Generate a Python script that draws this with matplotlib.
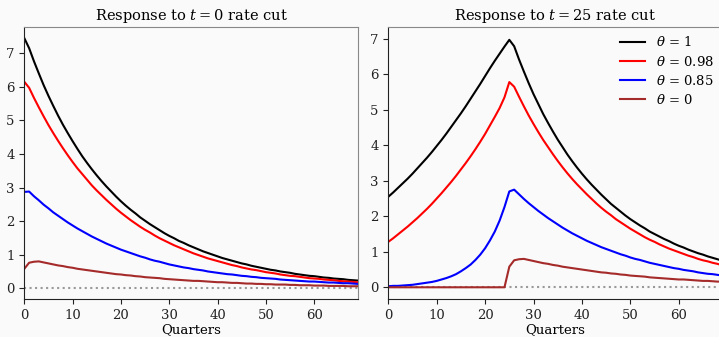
import matplotlib
matplotlib.use("Agg")
import matplotlib.pyplot as plt

plt.rcParams['font.family'] = ['DejaVu Serif']
plt.rcParams['mathtext.fontset'] = 'dejavuserif'

quarters = list(range(70))
labels = [r"$\theta$ = 1", r"$\theta$ = 0.98", r"$\theta$ = 0.85", r"$\theta$ = 0"]
colors = ["black", "red", "blue", "brown"]
titles = [r"Response to $t = 0$ rate cut", r"Response to $t = 25$ rate cut"]

# Left panel: response to t=0 rate cut
left_theta1 = [7.45, 7.15, 6.76, 6.40, 6.05, 5.73, 5.43, 5.14, 4.87, 4.62,
               4.38, 4.15, 3.93, 3.73, 3.54, 3.36, 3.19, 3.03, 2.88, 2.73,
               2.59, 2.46, 2.34, 2.23, 2.11, 2.01, 1.91, 1.82, 1.73, 1.64,
               1.56, 1.49, 1.41, 1.35, 1.28, 1.22, 1.16, 1.10, 1.05, 1.00,
               0.95, 0.90, 0.86, 0.82, 0.78, 0.74, 0.71, 0.67, 0.64, 0.61,
               0.58, 0.55, 0.53, 0.50, 0.48, 0.46, 0.43, 0.41, 0.39, 0.37,
               0.36, 0.34, 0.32, 0.31, 0.29, 0.28, 0.27, 0.25, 0.24, 0.23]
left_theta098 = [6.15, 5.97, 5.67, 5.39, 5.12, 4.86, 4.62, 4.39, 4.17, 3.96,
                 3.76, 3.57, 3.40, 3.23, 3.06, 2.91, 2.77, 2.63, 2.50, 2.37,
                 2.25, 2.14, 2.03, 1.93, 1.83, 1.74, 1.66, 1.57, 1.49, 1.42,
                 1.35, 1.28, 1.22, 1.16, 1.10, 1.04, 0.99, 0.94, 0.89, 0.85,
                 0.81, 0.77, 0.73, 0.69, 0.66, 0.62, 0.59, 0.56, 0.54, 0.51,
                 0.48, 0.46, 0.44, 0.41, 0.39, 0.37, 0.36, 0.34, 0.32, 0.30,
                 0.29, 0.28, 0.26, 0.25, 0.24, 0.22, 0.21, 0.20, 0.19, 0.18]
left_theta085 = [2.87, 2.88, 2.74, 2.62, 2.49, 2.38, 2.26, 2.16, 2.06, 1.96,
                 1.87, 1.78, 1.70, 1.62, 1.54, 1.47, 1.40, 1.33, 1.27, 1.21,
                 1.15, 1.10, 1.05, 1.00, 0.95, 0.91, 0.86, 0.82, 0.79, 0.75,
                 0.71, 0.68, 0.65, 0.62, 0.60, 0.57, 0.55, 0.53, 0.50, 0.48,
                 0.46, 0.44, 0.42, 0.41, 0.39, 0.37, 0.36, 0.34, 0.33, 0.31,
                 0.30, 0.29, 0.28, 0.26, 0.25, 0.24, 0.23, 0.22, 0.21, 0.20,
                 0.20, 0.19, 0.18, 0.17, 0.17, 0.16, 0.15, 0.15, 0.14, 0.13]
left_theta0 = [0.58, 0.76, 0.79, 0.80, 0.77, 0.74, 0.71, 0.68, 0.66, 0.63,
               0.61, 0.58, 0.56, 0.54, 0.52, 0.50, 0.48, 0.46, 0.44, 0.42,
               0.41, 0.39, 0.38, 0.36, 0.35, 0.33, 0.32, 0.31, 0.30, 0.28,
               0.27, 0.26, 0.25, 0.24, 0.23, 0.22, 0.22, 0.21, 0.20, 0.19,
               0.18, 0.18, 0.17, 0.16, 0.16, 0.15, 0.14, 0.14, 0.13, 0.13,
               0.12, 0.12, 0.11, 0.11, 0.11, 0.10, 0.10, 0.09, 0.09, 0.09,
               0.08, 0.08, 0.08, 0.07, 0.07, 0.07, 0.07, 0.06, 0.06, 0.06]

# Right panel: response to t=25 rate cut
right_theta1 = [2.55, 2.67, 2.80, 2.93, 3.06, 3.20, 3.35, 3.50, 3.65, 3.81,
                3.98, 4.15, 4.33, 4.52, 4.71, 4.90, 5.10, 5.31, 5.52, 5.73,
                5.95, 6.17, 6.38, 6.58, 6.78, 6.97, 6.79, 6.42, 6.08, 5.75,
                5.44, 5.16, 4.88, 4.63, 4.39, 4.16, 3.95, 3.74, 3.55, 3.37,
                3.20, 3.04, 2.89, 2.75, 2.61, 2.48, 2.35, 2.24, 2.13, 2.02,
                1.92, 1.83, 1.74, 1.66, 1.57, 1.50, 1.43, 1.36, 1.30, 1.23,
                1.17, 1.12, 1.06, 1.01, 0.96, 0.92, 0.87, 0.83, 0.79, 0.75]
right_theta098 = [1.28, 1.38, 1.49, 1.60, 1.71, 1.83, 1.95, 2.08, 2.21, 2.35,
                  2.50, 2.65, 2.81, 2.97, 3.14, 3.32, 3.50, 3.69, 3.89, 4.10,
                  4.32, 4.56, 4.80, 5.05, 5.35, 5.78, 5.65, 5.37, 5.10, 4.84,
                  4.60, 4.37, 4.15, 3.95, 3.75, 3.56, 3.38, 3.21, 3.05, 2.90,
                  2.76, 2.62, 2.49, 2.36, 2.24, 2.13, 2.03, 1.92, 1.83, 1.74,
                  1.65, 1.57, 1.49, 1.41, 1.34, 1.28, 1.21, 1.15, 1.09, 1.04,
                  0.99, 0.94, 0.89, 0.85, 0.80, 0.76, 0.73, 0.69, 0.66, 0.62]
right_theta085 = [0.03, 0.04, 0.04, 0.05, 0.06, 0.07, 0.09, 0.11, 0.13, 0.15,
                  0.18, 0.22, 0.26, 0.31, 0.37, 0.45, 0.54, 0.64, 0.77, 0.92,
                  1.10, 1.32, 1.57, 1.88, 2.26, 2.70, 2.75, 2.62, 2.49, 2.37,
                  2.26, 2.15, 2.05, 1.95, 1.86, 1.77, 1.68, 1.60, 1.52, 1.45,
                  1.38, 1.31, 1.25, 1.19, 1.13, 1.08, 1.03, 0.98, 0.93, 0.89,
                  0.84, 0.80, 0.77, 0.73, 0.69, 0.66, 0.63, 0.60, 0.57, 0.54,
                  0.52, 0.49, 0.47, 0.45, 0.42, 0.40, 0.38, 0.37, 0.35, 0.33]
right_theta0 = [0.00, 0.00, 0.00, 0.00, 0.00, 0.00, 0.00, 0.00, 0.00, 0.00,
                0.00, 0.00, 0.00, 0.00, 0.00, 0.00, 0.00, 0.00, 0.00, 0.00,
                0.00, 0.00, 0.00, 0.00, 0.00, 0.58, 0.76, 0.79, 0.80, 0.77,
                0.74, 0.71, 0.68, 0.66, 0.63, 0.61, 0.58, 0.56, 0.54, 0.52,
                0.50, 0.48, 0.46, 0.44, 0.42, 0.41, 0.39, 0.38, 0.36, 0.35,
                0.33, 0.32, 0.31, 0.30, 0.28, 0.27, 0.26, 0.25, 0.24, 0.23,
                0.22, 0.22, 0.21, 0.20, 0.19, 0.18, 0.18, 0.17, 0.16, 0.16]

panels = [
    [left_theta1, left_theta098, left_theta085, left_theta0],
    [right_theta1, right_theta098, right_theta085, right_theta0],
]
ylims = [(-0.32, 7.79), (-0.33, 7.34)]

W, H = 719, 337
fig = plt.figure(figsize=(W / 100, H / 100), dpi=100, facecolor='#fafafa')
positions = [
    [24.3 / W, 38 / H, 333.4 / W, 272.3 / H],
    [388.3 / W, 38 / H, 334.0 / W, 272.3 / H],
]

for k in range(2):
    ax = fig.add_axes(positions[k])
    ax.set_facecolor('#fafafa')
    ax.axhline(0, color='#999999', linestyle=':', linewidth=1.5, zorder=1)
    for series, col, lab in zip(panels[k], colors, labels):
        ax.plot(quarters, series, color=col, linewidth=1.5, label=lab, zorder=2)
    ax.set_xlim(0, 69)
    ax.set_ylim(*ylims[k])
    ax.set_xticks([0, 10, 20, 30, 40, 50, 60])
    ax.set_yticks(list(range(8)))
    ax.tick_params(labelsize=9.5, colors='#222222')
    ax.set_title(titles[k], fontsize=10.5, pad=5)
    ax.set_xlabel("Quarters", fontsize=9.5, labelpad=1)
    for side in ['top', 'right']:
        ax.spines[side].set_color('#888888')
    for side in ['left', 'bottom']:
        ax.spines[side].set_color('#222222')
    if k == 1:
        ax.legend(loc='upper right', frameon=False, fontsize=9.5,
                  handlelength=1.9, labelspacing=0.4, borderaxespad=0.25)

fig.savefig('out.png', dpi=100, facecolor=fig.get_facecolor())
